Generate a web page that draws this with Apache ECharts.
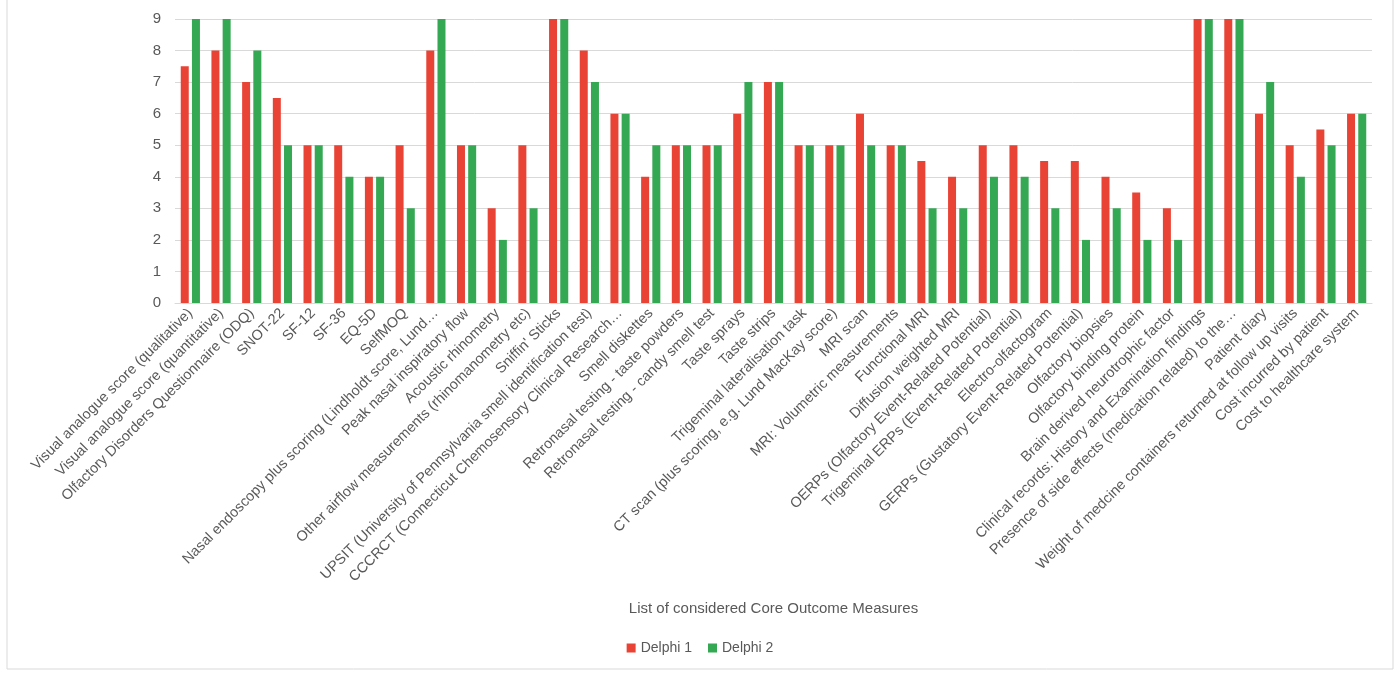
<!DOCTYPE html>
<html>
<head>
<meta charset="utf-8">
<script src="https://cdn.jsdelivr.net/npm/echarts@6/dist/echarts.min.js"></script>
<style>
  html, body { margin: 0; padding: 0; background: #fff; }
  #chart { width: 1400px; height: 673px; }
</style>
</head>
<body>
<div id="chart"></div>
<script>
var measures = [
  'Visual analogue score (qualitative)',
  'Visual analogue score (quantitative)',
  'Olfactory Disorders Questionnaire (ODQ)',
  'SNOT-22',
  'SF-12',
  'SF-36',
  'EQ-5D',
  'SelfMOQ',
  'Nasal endoscopy plus scoring (Lindholdt score, Lund\u2026',
  'Peak nasal inspiratory flow',
  'Acoustic rhinometry',
  'Other airflow measurements (rhinomanometry etc)',
  "Sniffin' Sticks",
  'UPSIT (University of Pennsylvania smell identification test)',
  'CCCRCT (Connecticut Chemosensory Clinical Research\u2026',
  'Smell diskettes',
  'Retronasal testing - taste powders',
  'Retronasal testing - candy smell test',
  'Taste sprays',
  'Taste strips',
  'Trigeminal lateralisation task',
  'CT scan (plus scoring, e.g. Lund MacKay score)',
  'MRI scan',
  'MRI: Volumetric measurements',
  'Functional MRI',
  'Diffusion weighted MRI',
  'OERPs (Olfactory Event-Related Potential)',
  'Trigeminal ERPs (Event-Related Potential)',
  'Electro-olfactogram',
  'GERPs (Gustatory Event-Related Potential)',
  'Olfactory biopsies',
  'Olfactory binding protein',
  'Brain derived neurotrophic factor',
  'Clinical records: History and Examination findings',
  'Presence of side effects (medication related) to the\u2026',
  'Patient diary',
  'Weight of medcine containers returned at follow up visits',
  'Cost incurred by patient',
  'Cost to healthcare system'
];

var delphi1 = [7.5, 8, 7, 6.5, 5, 5, 4, 5, 8, 5, 3, 5, 9, 8, 6, 4, 5, 5, 6, 7,
               5, 5, 6, 5, 4.5, 4, 5, 5, 4.5, 4.5, 4, 3.5, 3, 9, 9, 6, 5, 5.5, 6];
var delphi2 = [9, 9, 8, 5, 5, 4, 4, 3, 9, 5, 2, 3, 9, 7, 6, 5, 5, 5, 7, 7,
               5, 5, 5, 5, 3, 3, 4, 4, 3, 2, 3, 2, 2, 9, 9, 7, 4, 5, 6];

var chart = echarts.init(document.getElementById('chart'));

var option = {
  backgroundColor: '#fff',
  textStyle: { fontFamily: 'Liberation Sans, Arial, sans-serif' },
  graphic: [{
    type: 'rect',
    shape: { x: 7, y: -2, width: 1386, height: 671 },
    style: { fill: 'none', stroke: '#d9d9d9', lineWidth: 1 }
  }],
  grid: { left: 175, right: 28, top: 19, bottom: 370 },
  legend: {
    bottom: 13,
    left: 'center',
    itemWidth: 9,
    itemHeight: 9,
    itemGap: 16,
    icon: 'rect',
    textStyle: { color: '#595959', fontSize: 14 },
    data: ['Delphi 1', 'Delphi 2']
  },
  xAxis: {
    type: 'category',
    data: measures,
    name: 'List of considered Core Outcome Measures',
    nameLocation: 'middle',
    nameGap: 298,
    nameTextStyle: { color: '#595959', fontSize: 15 },
    axisLine: { lineStyle: { color: '#d9d9d9' } },
    axisTick: { show: false },
    axisLabel: {
      interval: 0,
      rotate: 45,
      color: '#595959',
      fontSize: 14.5,
      margin: 8
    }
  },
  yAxis: {
    type: 'value',
    min: 0,
    max: 9,
    interval: 1,
    axisLine: { show: false },
    axisTick: { show: false },
    axisLabel: { color: '#595959', fontSize: 15, margin: 14 },
    splitLine: { lineStyle: { color: '#d9d9d9' } }
  },
  series: [
    {
      name: 'Delphi 1',
      type: 'bar',
      data: delphi1,
      barWidth: 8,
      barGap: '40%',
      itemStyle: { color: '#e94335' }
    },
    {
      name: 'Delphi 2',
      type: 'bar',
      data: delphi2,
      barWidth: 8,
      itemStyle: { color: '#34a853' }
    }
  ]
};

chart.setOption(option);
window.addEventListener('resize', function () { chart.resize(); });
</script>
</body>
</html>
